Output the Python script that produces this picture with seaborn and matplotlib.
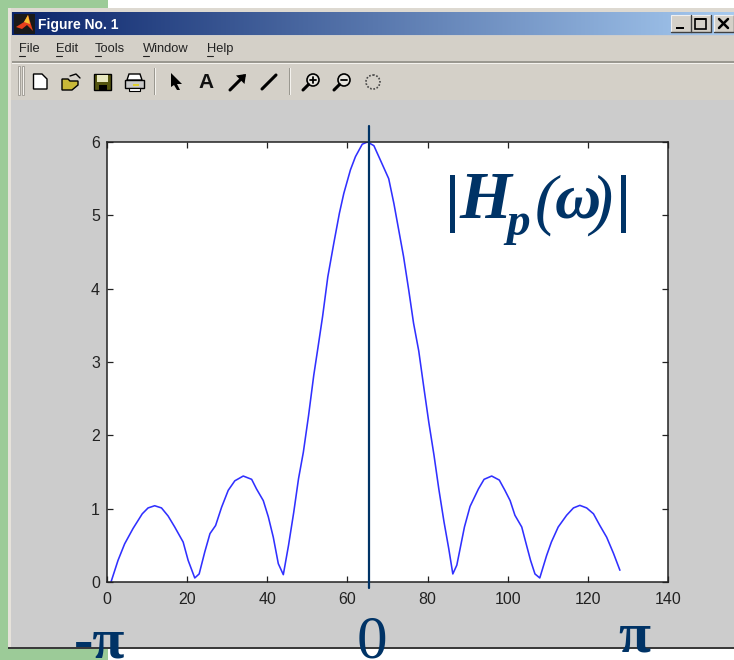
import numpy as np
import matplotlib
matplotlib.use('Agg')
import matplotlib.pyplot as plt
from matplotlib.patches import Rectangle, Polygon, Circle
import seaborn as sns

# Curve
freq_bin = [1, 2.75, 4.4, 6.5, 8.8, 10.25, 11.9, 13.6, 15.25, 16.9, 19, 20.25, 21.9, 23, 24.4, 25.7, 27.1,
            28.6, 30.25, 31.9, 34, 36.1, 37.3, 39, 40.25, 41.5, 42.75, 44, 45.3, 46.6, 47.8, 49, 50.3,
            51.6, 52.6, 53.8, 55.1, 56.6, 58, 59.1, 60.75, 62, 63.7, 65, 66.6, 68.25, 70.3, 71.6, 72.8,
            74, 75.3, 76.5, 77.8, 79.1, 80.3, 81.6, 82.8, 84.1, 85.3, 86.3, 87.3, 89.2, 90.6, 92.7, 94.1,
            96, 97.9, 99.3, 100.6, 101.8, 103.5, 104.7, 105.7, 106.8, 108, 109.7, 110.9, 112.6, 114.7,
            116.4, 118, 119.7, 121.4, 123, 124.7, 126.4, 128]
magnitude = [0, 0.295, 0.52, 0.73, 0.93, 1.01, 1.04, 1.01, 0.9, 0.75, 0.545, 0.295, 0.055, 0.11, 0.41, 0.66, 0.77,
             1.02, 1.25, 1.38, 1.445, 1.40, 1.27, 1.11, 0.89, 0.61, 0.25, 0.10, 0.5, 0.95, 1.41, 1.77, 2.27,
             2.82, 3.18, 3.62, 4.16, 4.62, 5.03, 5.3, 5.62, 5.8, 5.97, 6.0, 5.95, 5.75, 5.5, 5.16, 4.8,
             4.44, 3.98, 3.53, 3.15, 2.64, 2.18, 1.73, 1.27, 0.82, 0.45, 0.11, 0.23, 0.75, 1.03, 1.27, 1.40,
             1.445, 1.39, 1.25, 1.11, 0.91, 0.75, 0.5, 0.295, 0.11, 0.055, 0.36, 0.545, 0.75, 0.91,
             1.01, 1.045, 1.01, 0.93, 0.77, 0.61, 0.39, 0.16]
x_ticks = [0, 20, 40, 60, 80, 100, 120, 140]
y_ticks = [0, 1, 2, 3, 4, 5, 6]
centre_bin = 65.5
menu_items = [('File', 19), ('Edit', 56), ('Tools', 95), ('Window', 143), ('Help', 207)]

W, H = 734, 660
navy = '#003366'

sns.set_theme(style='white')
plt.rcParams['font.family'] = ['Liberation Sans', 'DejaVu Sans']
plt.rcParams['patch.edgecolor'] = 'none'

fig = plt.figure(figsize=(W / 100, H / 100), dpi=100, facecolor='white')

# background layer in pixel coordinates: the window around the plot
bg = fig.add_axes([0, 0, 1, 1], zorder=0)
bg.set_xlim(0, W)
bg.set_ylim(H, 0)
bg.axis('off')


def box(x, y, w, h, color, **kw):
    bg.add_patch(Rectangle((x, y), w, h, facecolor=color, edgecolor=kw.pop('edge', 'none'), **kw))


box(0, 0, 108, H, '#9CCB98')
box(8, 8, W - 8, 640, '#CCCCCC')
box(8, 8, W - 8, 4, '#DDD9D1')
box(8, 8, 3, 640, '#E6E2DA')
box(8, 646.5, W - 8, 2, '#3A3A3A')
box(11, 36, W - 11, 64, '#D4D0C8')
box(12, 61, W - 12, 1.5, '#9A9890')
box(12, 62.5, W - 12, 1, '#F4F2EE')

# title bar gradient
grad = np.linspace(0, 1, 256).reshape(1, -1)
cmap = matplotlib.colors.LinearSegmentedColormap.from_list('bar', ['#0A246A', '#A6CAF0'])
bg.imshow(grad, extent=(12, W, 35.5, 12.5), cmap=cmap, aspect='auto', zorder=1)
bg.set_xlim(0, W)
bg.set_ylim(H, 0)
bg.text(38, 24.5, 'Figure No. 1', color='white', fontsize=10, fontweight='bold', va='center', zorder=3)

# matlab logo
box(14, 14, 21, 20, '#1A1A1A', zorder=2)
bg.add_patch(Polygon([(16, 27), (24, 22), (28, 15), (33, 31), (27, 25), (22, 29)], facecolor='#E8401E', zorder=3))
bg.add_patch(Polygon([(24, 22), (28, 15), (30, 24)], facecolor='#F6C030', zorder=4))

# window buttons
for bx, sym in [(671, '_'), (691, 'max'), (714, 'X')]:
    box(bx, 15, 20, 17, '#D4D0C8', edge='#F0F0F0', linewidth=0.8, zorder=3)
    bg.plot([bx, bx + 20, bx + 20], [32, 32, 15], color='#404040', lw=1, zorder=4)
    if sym == '_':
        box(bx + 5, 26.5, 8, 2.2, 'black', zorder=5)
    elif sym == 'max':
        box(bx + 4, 18.5, 11, 10, 'none', edge='black', linewidth=1.2, zorder=5)
        box(bx + 4, 18, 11, 2, 'black', zorder=5)
    else:
        bg.plot([bx + 5, bx + 14], [19, 28], color='black', lw=1.8, zorder=5)
        bg.plot([bx + 5, bx + 14], [28, 19], color='black', lw=1.8, zorder=5)

# menu
for name, mx in menu_items:
    bg.text(mx, 49, name, fontsize=9.3, color='#222222', va='center', zorder=3)
    bg.plot([mx, mx + 6], [55.5, 55.5], color='#222222', lw=0.8, zorder=3)

# toolbar grip and separators
box(18, 66, 2, 29, '#F4F2EE', edge='#9A9890', linewidth=0.6)
box(22, 66, 2, 29, '#F4F2EE', edge='#9A9890', linewidth=0.6)
for sx in [154, 289]:
    box(sx, 68, 1, 27, '#9A9890')
    box(sx + 1, 68, 1, 27, '#F4F2EE')

# toolbar icons
bg.add_patch(Polygon([(33.5, 74), (42, 74), (47, 79), (47, 89), (33.5, 89)], facecolor='white', edgecolor='black', lw=1))
bg.add_patch(Polygon([(62, 79), (68, 79), (70, 81), (78, 81), (78, 85), (72, 90), (62, 90)], facecolor='#C8B838', edgecolor='black', lw=1))
bg.plot([70, 76, 80], [76, 74, 78], color='black', lw=1)
box(94, 74, 17, 16, '#55550F', edge='black', linewidth=1)
box(97, 75, 11, 7, '#E8E8C0')
box(99, 85, 8, 5, 'black')
box(125, 80, 19, 8, '#C8C8C8', edge='black', linewidth=1)
bg.add_patch(Polygon([(129, 74), (140, 74), (142, 80), (127, 80)], facecolor='white', edgecolor='black', lw=1))
box(129, 88, 11, 3, 'white', edge='black', linewidth=0.8)
box(133, 84, 6, 1.5, '#E0D030', zorder=3)
bg.add_patch(Polygon([(171, 73), (182, 84), (177, 84), (180, 90), (177, 90), (174, 85), (171, 87)], facecolor='black'))
bg.text(206, 82, 'A', fontsize=15, fontweight='bold', color='#111111', ha='center', va='center')
bg.plot([230, 244], [90, 76], color='black', lw=2.2)
bg.add_patch(Polygon([(246, 74), (236, 75.5), (244.5, 84)], facecolor='black'))
bg.plot([262, 276], [89, 75], color='black', lw=2.2)
for cx, sign in [(313, 'plus'), (344, 'minus')]:
    bg.add_patch(Circle((cx, 80), 6, facecolor='#E8E6E0', edgecolor='black', lw=1.2))
    bg.plot([cx - 4.5, cx - 10], [84.5, 90], color='black', lw=2.2)
    bg.plot([cx - 3, cx + 3], [80, 80], color='black', lw=1.3)
    if sign == 'plus':
        bg.plot([cx, cx], [77, 83], color='black', lw=1.3)
bg.add_patch(Circle((373, 82), 7, facecolor='none', edgecolor='#444444', lw=1.2, linestyle=(0, (1, 1))))

# the plot itself
left, right, top, bottom = 107, 668, 142, 582
ax = fig.add_axes([left / W, 1 - bottom / H, (right - left) / W, (bottom - top) / H], zorder=2)
ax.set_facecolor('white')
sns.lineplot(x=freq_bin, y=magnitude, sort=False, errorbar=None, color='#3030FF', linewidth=1.15, ax=ax)
ax.set_xlim(0, 140)
ax.set_ylim(0, 6)
ax.set_xticks(x_ticks)
ax.set_yticks(y_ticks)
ax.tick_params(direction='in', length=4.5, width=0.9, color='#222222', labelcolor='#222222', labelsize=11.5,
               top=True, right=True, bottom=True, left=True)
ax.tick_params(axis='x', pad=7)
ax.tick_params(axis='y', pad=5)
for s in ax.spines.values():
    s.set_visible(True)
    s.set_color('#222222')
    s.set_linewidth(1.1)
ax.plot([centre_bin, centre_bin], [-0.08, 6.22], color=navy, lw=1.6, clip_on=False, zorder=5)


def label(px, py, s, size, **kw):
    fig.text(px / W, 1 - py / H, s, color=navy, fontsize=size, family='Liberation Serif',
             ha='center', va='baseline', zorder=10, **kw)


# annotation over the plot
for bx in [450, 621]:
    fig.add_artist(Rectangle((bx / W, 1 - 233 / H), 5 / W, 58 / H, transform=fig.transFigure,
                             facecolor=navy, edgecolor='none', zorder=10))
label(485, 218, 'H', 48, fontweight='bold', fontstyle='italic')
label(518, 235, 'p', 34, fontweight='bold', fontstyle='italic')
label(546, 222, '(', 48, fontstyle='italic')
label(578, 218, 'ω', 46, fontweight='bold', fontstyle='italic')
label(601, 222, ')', 48, fontstyle='italic')

label(100, 658, '-π', 42, fontweight='bold')
label(372, 658, '0', 44)
label(634, 652, 'π', 42, fontweight='bold')

fig.savefig('out.png', dpi=100)
